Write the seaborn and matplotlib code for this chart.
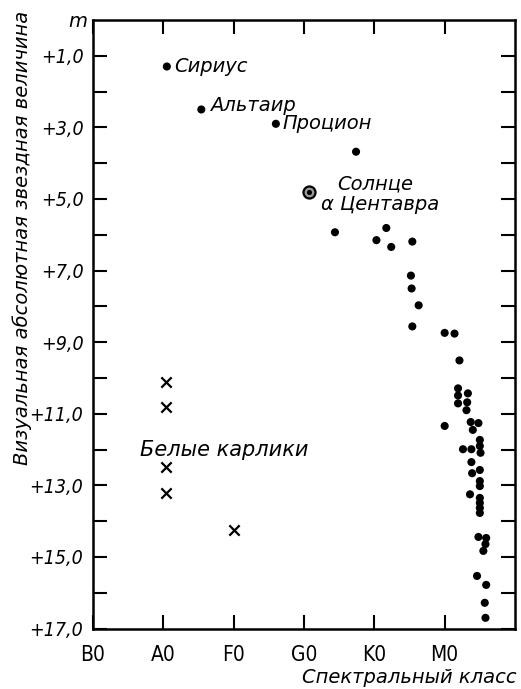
import numpy as np
import pandas as pd
import matplotlib
matplotlib.use("Agg")
import matplotlib.pyplot as plt
import seaborn as sns
from matplotlib import font_manager

# spectral classes on the x axis
classes = ["B0", "A0", "F0", "G0", "K0", "M0"]

# named bright stars
named_stars = ["Сириус", "Альтаир", "Процион"]
named_x = [1.05, 1.54, 2.60]
named_m = [1.3, 2.5, 2.9]

# the Sun / alpha Centauri
sun_x = [3.07]
sun_m = [4.8]

# other main sequence stars
ms_x = [3.74, 3.44, 4.17, 4.03, 4.24, 4.54, 4.52, 4.53, 4.63, 4.54, 5.00, 5.14, 5.21,
        5.19, 5.19, 5.19, 5.33, 5.32, 5.31, 5.00, 5.37, 5.48, 5.40, 5.50, 5.50, 5.51,
        5.26, 5.38, 5.38, 5.50, 5.39, 5.50, 5.50, 5.36, 5.50, 5.50, 5.50, 5.50,
        5.48, 5.59, 5.58, 5.55, 5.46, 5.59, 5.57, 5.58]
ms_m = [3.68, 5.93, 5.81, 6.15, 6.34, 6.19, 7.14, 7.50, 7.97, 8.56, 8.74, 8.76, 9.51,
        10.29, 10.49, 10.71, 10.43, 10.68, 10.90, 11.34, 11.23, 11.26, 11.45, 11.73, 11.90, 12.09,
        11.99, 11.99, 12.35, 12.57, 12.66, 12.88, 13.02, 13.25, 13.35, 13.49, 13.63, 13.77,
        14.44, 14.47, 14.64, 14.83, 15.53, 15.78, 16.28, 16.70]

# white dwarfs
wd_x = [1.04, 1.04, 1.04, 1.04, 2.0]
wd_m = [10.1, 10.8, 12.5, 13.2, 14.25]

y_major = [1, 3, 5, 7, 9, 11, 13, 15, 17]
y_minor = [2, 4, 6, 8, 10, 12, 14, 16]

sns.set_style("ticks")
plt.rcParams["font.family"] = ["DejaVu Sans"]
for key in ["text.color", "axes.labelcolor", "xtick.color", "ytick.color"]:
    plt.rcParams[key] = "black"

# look for a narrow face for the tick labels
narrow_family, narrow_stretch, tick_scale = "DejaVu Sans", "normal", 0.82
for f in font_manager.fontManager.ttflist:
    if "Narrow" in f.name or "Condensed" in f.name:
        narrow_family, narrow_stretch, tick_scale = f.name, "normal", 1.0
        break
    if f.name == "DejaVu Sans" and "condensed" in str(f.stretch):
        narrow_family, narrow_stretch, tick_scale = "DejaVu Sans", "condensed", 1.0
        break

fig = plt.figure(figsize=(5.21, 6.89), dpi=100)
ax = fig.add_axes([0.1785, 0.0877, 0.810, 0.8833])

stars = pd.DataFrame({"x": named_x + ms_x, "m": named_m + ms_m})
dwarfs = pd.DataFrame({"x": wd_x, "m": wd_m})

sns.scatterplot(data=stars, x="x", y="m", ax=ax, color="black", s=34,
                edgecolor="none", legend=False)
sns.scatterplot(data=dwarfs, x="x", y="m", ax=ax, color="black", marker="x",
                s=55, linewidth=1.6, legend=False)
ax.scatter(sun_x, sun_m, s=75, facecolor="#9a9a9a", edgecolor="black",
           linewidth=1.6, zorder=3)
ax.scatter(sun_x, sun_m, s=7, color="black", zorder=4)

lab = dict(fontsize=14, style="italic", va="center", ha="left")
offsets = [(5, 0), (6.5, 3), (5, 0)]
for name, x, m, off in zip(named_stars, named_x, named_m, offsets):
    ax.annotate(name, (x, m), xytext=off, textcoords="offset points", **lab)
ax.annotate("Солнце", (sun_x[0], sun_m[0]), xytext=(20, 6),
            textcoords="offset points", **lab)
ax.annotate("α Центавра", (sun_x[0], sun_m[0]), xytext=(9, -9),
            textcoords="offset points", **lab)
ax.text(0.67, 12.0, "Белые карлики", fontsize=15, style="italic",
        va="center", ha="left")

ax.set_xlim(0, 6)
ax.set_ylim(17, 0)
ax.set_xticks(range(len(classes)))
ax.set_xticklabels(classes, family=narrow_family, stretch=narrow_stretch,
                   fontsize=15 * tick_scale)
ax.set_yticks(y_major)
ax.set_yticklabels([f"+{v},0" for v in y_major], family=narrow_family,
                   stretch=narrow_stretch, style="italic", fontsize=14 * tick_scale)
ax.set_yticks(y_minor, minor=True)
ax.tick_params(axis="both", which="both", direction="in", length=10, width=1.5,
               top=True, right=True, colors="black")
ax.tick_params(axis="x", pad=12)
ax.tick_params(axis="y", pad=7)
ax.set_xlabel("")
ax.set_ylabel("")
for sp in ax.spines.values():
    sp.set_linewidth(1.8)
    sp.set_color("black")

ax.text(-0.036, 0.997, "m", transform=ax.transAxes, fontsize=14,
        style="italic", ha="center", va="center")
fig.text(0.042, 0.655, "Визуальная абсолютная звездная величина", rotation=90,
         fontsize=14, style="italic", ha="center", va="center")
fig.text(0.992, 0.016, "Спектральный класс", fontsize=14, style="italic",
         ha="right", va="center")

fig.savefig("out.png", dpi=100, facecolor="white")
